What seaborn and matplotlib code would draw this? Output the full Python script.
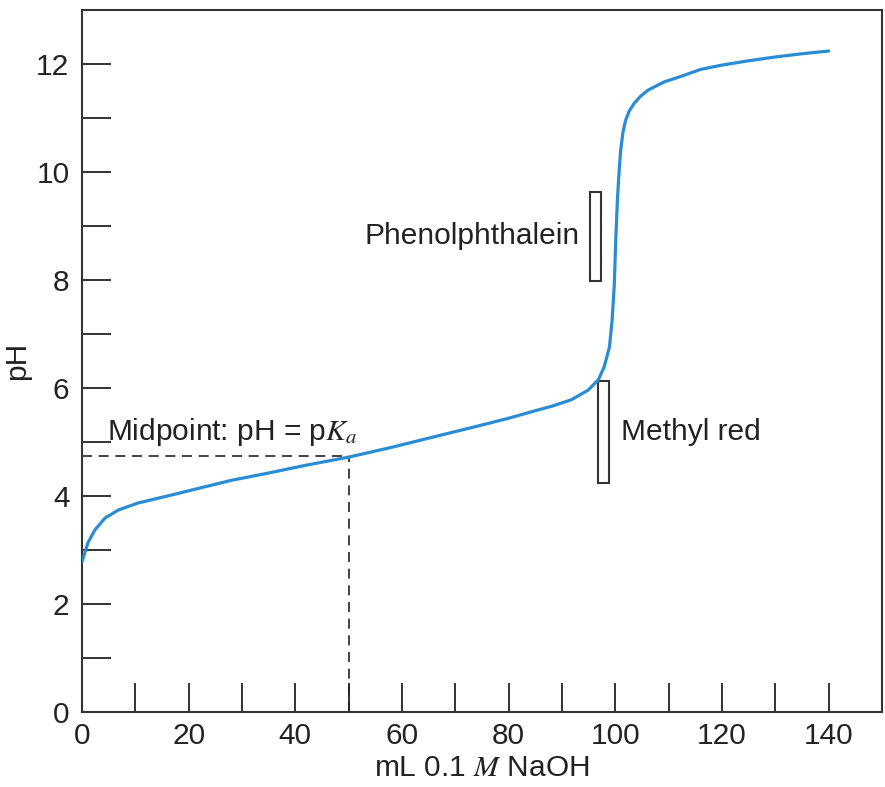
import matplotlib
matplotlib.use("Agg")
import matplotlib.pyplot as plt
from matplotlib.patches import Rectangle
from matplotlib.ticker import MultipleLocator
import seaborn as sns
import pandas as pd

# ---- data ----
naoh_ml = [0, 1.1, 2.4, 4.3, 6.8, 10.5, 14.3, 17.7, 22.2, 28, 34.7, 42, 50, 58,
           67, 74, 80, 85, 88, 91.7, 94.9, 96.8, 97.9, 98.9, 99.4, 99.8, 100.1,
           100.4, 100.7, 101.0, 101.4, 101.9, 102.6, 103.6, 104.8, 106.2, 109.2,
           112, 116, 120, 125, 130, 135, 140]
ph_values = [2.78, 3.13, 3.37, 3.59, 3.74, 3.87, 3.96, 4.04, 4.15, 4.29, 4.42,
             4.57, 4.72, 4.9, 5.12, 5.29, 5.44, 5.58, 5.66, 5.78, 5.96, 6.15,
             6.39, 6.76, 7.26, 7.9, 8.8, 9.5, 10.0, 10.4, 10.72, 10.95, 11.13,
             11.28, 11.41, 11.52, 11.67, 11.76, 11.9, 11.98, 12.06, 12.13,
             12.19, 12.24]

midpoint_x = 50
midpoint_ph = 4.74

indicator_names = ["Phenolphthalein", "Methyl red"]
indicator_x_left = [95.3, 96.8]
indicator_x_right = [97.4, 98.9]
indicator_ph_low = [7.98, 4.24]
indicator_ph_high = [9.63, 6.13]

x_major_ticks = [0, 20, 40, 60, 80, 100, 120, 140]
y_major_ticks = [0, 2, 4, 6, 8, 10, 12]

# ---- style ----
sns.set_theme(style="white")
plt.rcParams["font.family"] = ["Liberation Sans", "DejaVu Sans"]
plt.rcParams["mathtext.fontset"] = "stix"

fig = plt.figure(figsize=(8.85, 7.87), dpi=100)
ax = fig.add_axes([82 / 885, 1 - 712 / 787, 800 / 885, 702 / 787])

df = pd.DataFrame({"mL": naoh_ml, "pH": ph_values})
sns.lineplot(data=df, x="mL", y="pH", ax=ax, sort=False, color="#2A8CD4",
             linewidth=2.3, zorder=3)

# midpoint dashed guide
ax.plot([0, midpoint_x], [midpoint_ph, midpoint_ph], color="#222222",
        linestyle=(0, (6, 4)), linewidth=1.2, zorder=2)
ax.plot([midpoint_x, midpoint_x], [0, midpoint_ph], color="#222222",
        linestyle=(0, (6, 4)), linewidth=1.2, zorder=2)

# indicator range boxes
for xl, xr, lo, hi in zip(indicator_x_left, indicator_x_right,
                          indicator_ph_low, indicator_ph_high):
    ax.add_patch(Rectangle((xl, lo), xr - xl, hi - lo, fill=False,
                           edgecolor="#333333", linewidth=1.5, zorder=2))

fs = 21.5
ax.text(93.3, 8.82, indicator_names[0], ha="right", va="center",
        fontsize=fs, color="#222222")
ax.text(101.1, 5.18, indicator_names[1], ha="left", va="center",
        fontsize=fs, color="#222222")
ax.text(4.6, 5.03, r"Midpoint: pH = p$K_a$", ha="left", va="baseline",
        fontsize=fs, color="#222222")

ax.set_xlim(0, 150)
ax.set_ylim(0, 13)
ax.set_xticks(x_major_ticks)
ax.set_yticks(y_major_ticks)
ax.xaxis.set_minor_locator(MultipleLocator(10))
ax.yaxis.set_minor_locator(MultipleLocator(1))

for which in ("major", "minor"):
    ax.tick_params(axis="both", which=which, direction="in", length=21,
                   width=1.4, color="#333333")
ax.tick_params(axis="y", which="major", pad=9, labelsize=fs, labelcolor="#222222",
               left=True)
ax.tick_params(axis="x", which="major", pad=7, labelsize=fs, labelcolor="#222222",
               bottom=True)
ax.tick_params(axis="both", which="minor", left=True, bottom=True)

for s in ax.spines.values():
    s.set_color("#333333")
    s.set_linewidth(1.5)

ax.set_xlabel(r"mL 0.1 $M$ NaOH", fontsize=fs, color="#222222", labelpad=3)
ax.set_ylabel("pH", fontsize=fs, color="#222222", labelpad=4)

fig.savefig("out.png", dpi=100)
